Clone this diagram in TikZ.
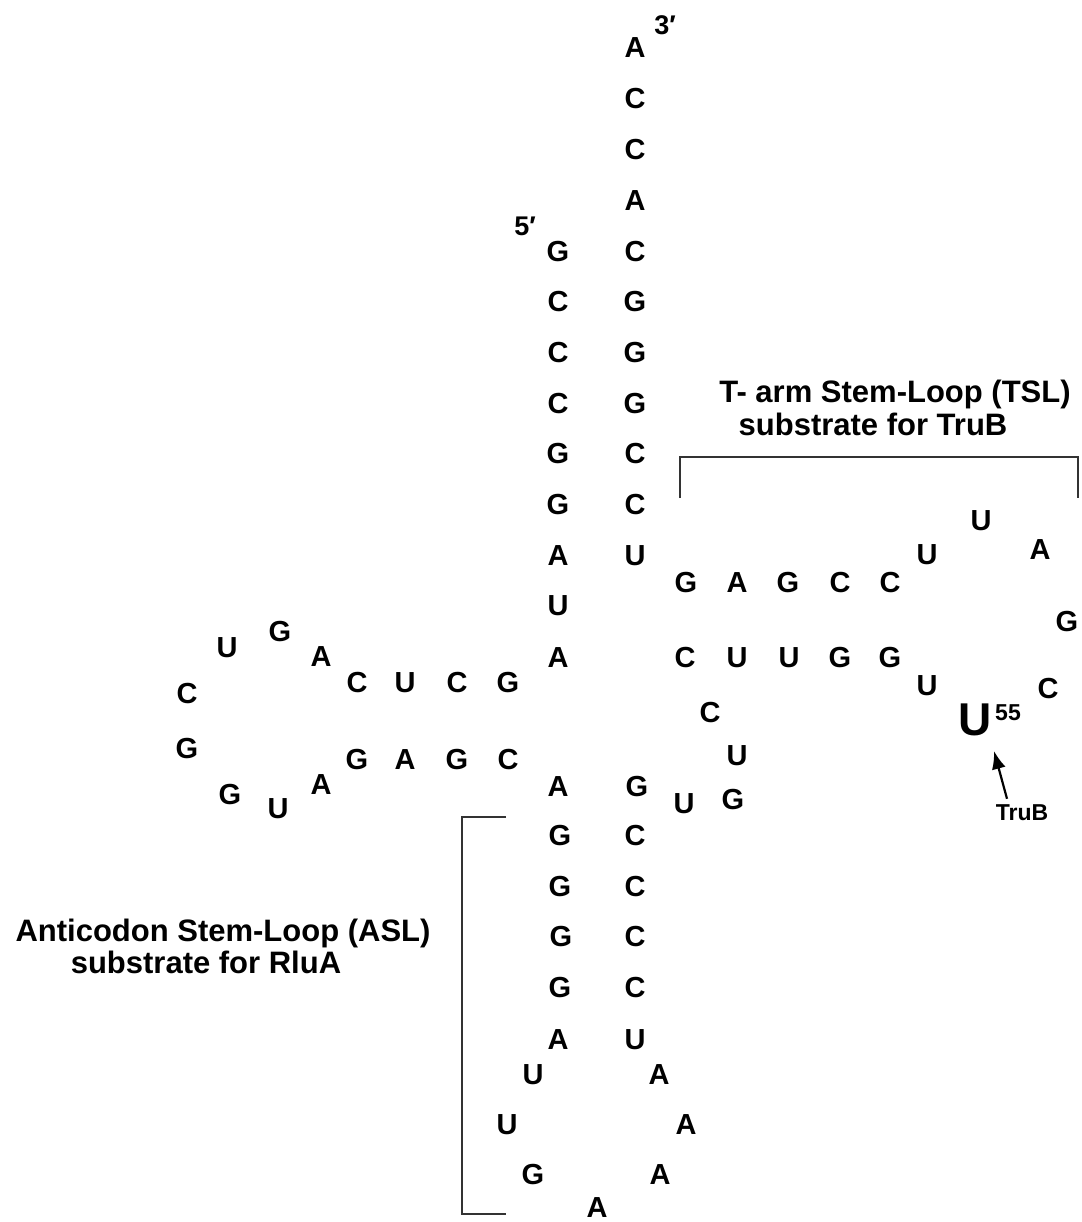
\documentclass[tikz,border=0pt]{standalone}
\usepackage{fontspec}
\setmainfont{Liberation Sans}
\usetikzlibrary{arrows.meta}
\tikzset{
  nt/.style={inner sep=0pt, font=\fontsize{29}{29}\selectfont\bfseries},
  bignt/.style={inner sep=0pt, font=\fontsize{46}{46}\selectfont\bfseries},
  supnum/.style={inner sep=0pt, font=\fontsize{23}{23}\selectfont\bfseries},
  endlabel/.style={inner sep=0pt, font=\fontsize{27}{27}\selectfont\bfseries},
  caption/.style={inner sep=0pt, anchor=base, font=\fontsize{31}{31}\selectfont\bfseries},
  small/.style={inner sep=0pt, font=\fontsize{23}{23}\selectfont\bfseries},
  bracket/.style={line width=2pt, draw=black!80},
  pointer/.style={line width=2.2pt, -{Latex[length=18pt,width=14pt]}}
}
\begin{document}
\begin{tikzpicture}[x=1pt,y=-1pt]
\useasboundingbox (0,0) rectangle (1081,1222);

% acceptor stem, 3' strand
\node[nt] (r1) at (635,48) {A};
\node[nt] (r2) at (635,99) {C};
\node[nt] (r3) at (635,150) {C};
\node[nt] (r4) at (635,201) {A};
\node[nt] (r5) at (635,252) {C};
\node[nt] (r6) at (635,302) {G};
\node[nt] (r7) at (635,353) {G};
\node[nt] (r8) at (635,404) {G};
\node[nt] (r9) at (635,454) {C};
\node[nt] (r10) at (635,505) {C};
\node[nt] (r11) at (635,556) {U};
\node[endlabel] (three) at (665,25) {3′};

% acceptor stem, 5' strand
\node[endlabel] (five) at (525,226) {5′};
\node[nt] (l1) at (558,252) {G};
\node[nt] (l2) at (558,302) {C};
\node[nt] (l3) at (558,353) {C};
\node[nt] (l4) at (558,404) {C};
\node[nt] (l5) at (558,454) {G};
\node[nt] (l6) at (558,505) {G};
\node[nt] (l7) at (558,556) {A};
\node[nt] (l8) at (558,606) {U};
\node[nt] (l9) at (558,658) {A};

% D arm
\node[nt] (d1) at (508,683) {G};
\node[nt] (d2) at (457,683) {C};
\node[nt] (d3) at (405,683) {U};
\node[nt] (d4) at (357,683) {C};
\node[nt] (d5) at (321,657) {A};
\node[nt] (d6) at (280,632) {G};
\node[nt] (d7) at (227,648) {U};
\node[nt] (d8) at (187,694) {C};
\node[nt] (d9) at (187,749) {G};
\node[nt] (d10) at (230,795) {G};
\node[nt] (d11) at (278,809) {U};
\node[nt] (d12) at (321,785) {A};
\node[nt] (d13) at (357,760) {G};
\node[nt] (d14) at (405,760) {A};
\node[nt] (d15) at (457,760) {G};
\node[nt] (d16) at (508,760) {C};

% anticodon arm
\node[nt] (a1) at (558,787) {A};
\node[nt] (a2) at (560,836) {G};
\node[nt] (a3) at (560,887) {G};
\node[nt] (a4) at (561,937) {G};
\node[nt] (a5) at (560,988) {G};
\node[nt] (a6) at (558,1040) {A};
\node[nt] (a7) at (533,1075) {U};
\node[nt] (a8) at (507,1125) {U};
\node[nt] (a9) at (533,1175) {G};
\node[nt] (a10) at (597,1208) {A};
\node[nt] (a11) at (660,1175) {A};
\node[nt] (a12) at (686,1125) {A};
\node[nt] (a13) at (659,1075) {A};
\node[nt] (a14) at (635,1040) {U};
\node[nt] (a15) at (635,988) {C};
\node[nt] (a16) at (635,937) {C};
\node[nt] (a17) at (635,887) {C};
\node[nt] (a18) at (635,836) {C};
\node[nt] (a19) at (637,787) {G};

% variable loop
\node[nt] (v1) at (684,804) {U};
\node[nt] (v2) at (733,800) {G};
\node[nt] (v3) at (737,756) {U};
\node[nt] (v4) at (710,713) {C};

% T arm
\node[nt] (t1) at (685,658) {C};
\node[nt] (t2) at (737,658) {U};
\node[nt] (t3) at (789,658) {U};
\node[nt] (t4) at (840,658) {G};
\node[nt] (t5) at (890,658) {G};
\node[nt] (t6) at (927,686) {U};
\node[bignt] (u55) at (975,720) {U};
\node[supnum] (u55num) at (1008,713) {55};
\node[nt] (t8) at (1048,689) {C};
\node[nt] (t9) at (1067,622) {G};
\node[nt] (t10) at (1040,550) {A};
\node[nt] (t11) at (981,521) {U};
\node[nt] (t12) at (927,555) {U};
\node[nt] (t13) at (890,583) {C};
\node[nt] (t14) at (840,583) {C};
\node[nt] (t15) at (788,583) {G};
\node[nt] (t16) at (737,583) {A};
\node[nt] (t17) at (686,583) {G};

% TruB modification site
\node[small] (trub) at (1022,813) {TruB};
\coordinate (tip) at (994,751);
\draw[pointer] ([xshift=-15pt,yshift=6pt]trub.north) -- (tip);

% T-arm bracket and caption
\coordinate (tb1) at (680,498);
\coordinate (tb2) at (680,457);
\coordinate (tb3) at (1078,457);
\coordinate (tb4) at (1078,498);
\draw[bracket] (tb1) -- (tb2) -- (tb3) -- (tb4);
\node[caption] (tslA) at (895,402) {T- arm Stem-Loop (TSL)};
\node[caption] (tslB) at (873,435) {substrate for TruB};

% anticodon bracket and caption
\coordinate (ab1) at (506,817);
\coordinate (ab2) at (462,817);
\coordinate (ab3) at (462,1214);
\coordinate (ab4) at (506,1214);
\draw[bracket] (ab1) -- (ab2) -- (ab3) -- (ab4);
\node[caption] (aslA) at (223,941) {Anticodon Stem-Loop (ASL)};
\node[caption] (aslB) at (206,973) {substrate for RluA};
\end{tikzpicture}
\end{document}
